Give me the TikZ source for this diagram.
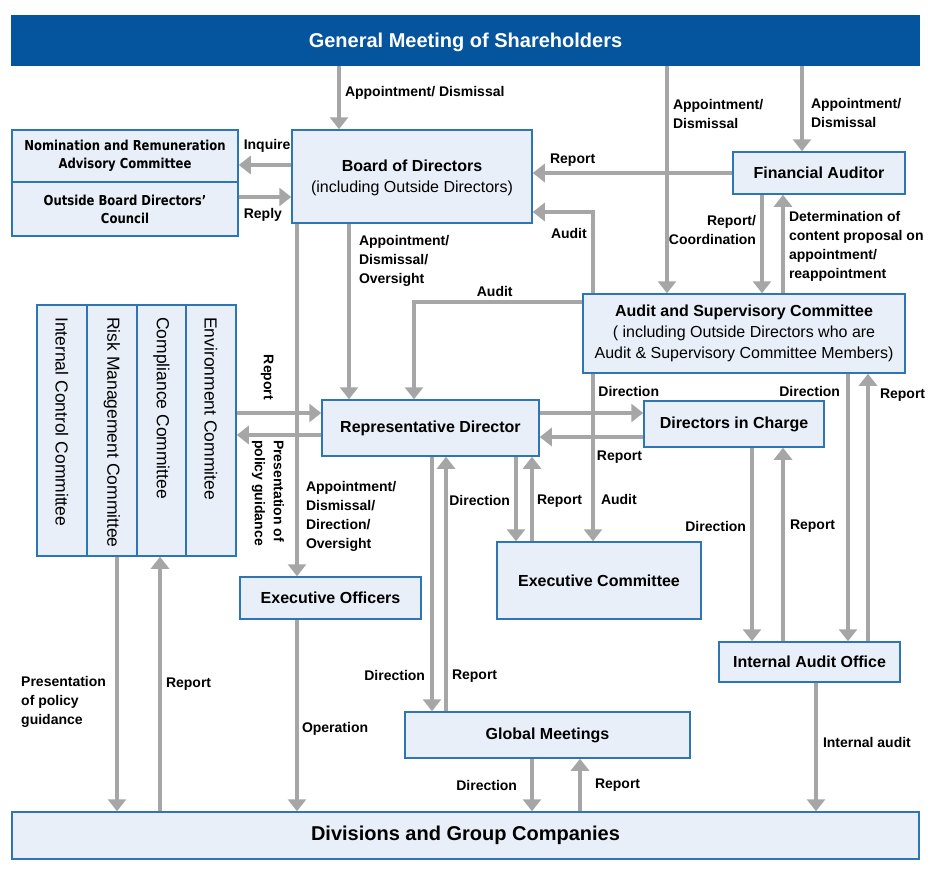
\documentclass[tikz,border=0pt]{standalone}
\usepackage{fontspec}
\setmainfont{Liberation Sans}
\newfontfamily\nomfamily{DejaVu Sans}[FakeStretch=0.85]
\usetikzlibrary{arrows.meta}
\definecolor{gmblue}{RGB}{5,84,158}
\definecolor{boxline}{RGB}{46,117,182}
\definecolor{boxfill}{RGB}{233,239,248}
\definecolor{flowgray}{RGB}{166,166,166}
\newcommand{\lblfont}{\fontsize{14}{19}\selectfont\bfseries}
\newcommand{\boxfont}{\fontsize{16}{21}\selectfont\bfseries}
\newcommand{\gmfont}{\fontsize{20}{24}\selectfont\bfseries}
\newcommand{\nomfont}{\nomfamily\fontsize{13.7}{18}\selectfont\bfseries}
\newcommand{\colfont}{\fontsize{17.5}{20}\selectfont}
\tikzset{
    box/.style={draw=boxline, fill=boxfill, line width=1.5pt, inner sep=0pt, align=center, font=\boxfont},
    flow/.style={draw=flowgray, line width=4pt, -{Triangle[width=18pt, length=12pt]}},
    lbl/.style={font=\lblfont, inner sep=0pt, text=black},
    coltext/.style={anchor=west, rotate=-90, inner sep=0pt, font=\colfont}
}
\begin{document}
\begin{tikzpicture}[x=1pt, y=-1pt]
    \useasboundingbox (0,0) rectangle (930,886);

    \node[box, fill=gmblue, draw=gmblue, text=white, font=\gmfont, text depth=0pt, minimum width=907pt, minimum height=49pt] (gm) at (465.5,40.5) {General Meeting of Shareholders};
    \node[box, font=\nomfont, minimum width=226pt, minimum height=52pt] (nom) at (125,156) {Nomination and Remuneration\\Advisory Committee};
    \node[box, font=\nomfont, minimum width=226pt, minimum height=54pt] (obdc) at (125,209) {Outside Board Directors’\\Council};
    \node[box, minimum width=240pt, minimum height=93pt] (board) at (412,176.5) {\rule{0pt}{15pt}Board of Directors\\{\mdseries (including Outside Directors)}};
    \node[box, minimum width=172pt, minimum height=42pt] (fa) at (819,173) {Financial Auditor};
    \node[box, minimum width=322pt, minimum height=79pt] (asc) at (744,333.5) {Audit and Supervisory Committee\\{\mdseries ( including Outside Directors who are}\\{\mdseries Audit \& Supervisory Committee Members)}};
    \node[box, minimum width=199pt, minimum height=251pt] (cmt) at (136.5,430.5) {};
    \node[box, minimum width=217pt, minimum height=56pt] (rep) at (430.5,428) {Representative Director};
    \node[box, minimum width=180pt, minimum height=46pt] (dic) at (734,424) {Directors in Charge};
    \node[box, minimum width=181pt, minimum height=42pt] (eo) at (330.5,598) {Executive Officers};
    \node[box, minimum width=204pt, minimum height=77pt] (ec) at (599,580.5) {Executive Committee};
    \node[box, minimum width=181pt, minimum height=40pt] (iao) at (809.5,662) {Internal Audit Office};
    \node[box, minimum width=285pt, minimum height=46pt] (glm) at (547.5,735) {Global Meetings};
    \node[box, font=\gmfont, minimum width=907pt, minimum height=47pt] (div) at (465.5,835.5) {Divisions and Group Companies};

    % committee columns
    \foreach \x in {87,137,186}
        \draw[boxline, line width=1.5pt] (cmt.north -| \x,0) -- (cmt.south -| \x,0);
    \node[coltext] (icc) at (62,317) {Internal Control Committee};
    \node[coltext] (rmc) at (112,317) {Risk Management Committee};
    \node[coltext] (cpc) at (161.5,317) {Compliance Committee};
    \node[coltext] (enc) at (211,317) {Environment Commitee};

    \draw[flow] (gm.south -| 339,0) -- node[lbl, pos=0.43, anchor=west, xshift=4pt] (lGmBoard) {Appointment/ Dismissal} (board.north -| 339,0);
    \draw[flow] (gm.south -| 667,0) -- node[lbl, align=left, pos=0.21, anchor=west, xshift=4pt] (lGmAsc) {Appointment/\\Dismissal} (asc.north -| 667,0);
    \draw[flow] (gm.south -| 802,0) -- node[lbl, align=left, pos=0.55, anchor=west, xshift=7pt] (lGmFa) {Appointment/\\Dismissal} (fa.north -| 802,0);

    \draw[flow] (board.west |- 0,165) -- node[lbl, pos=0.46, yshift=19.5pt] (lInquire) {Inquire} (nom.east |- 0,165);
    \draw[flow] (obdc.east |- 0,197) -- node[lbl, pos=0.46, yshift=-18pt] (lReply) {Reply} (board.west |- 0,197);

    \draw[flow] (fa.west) -- node[lbl, pos=0.8, yshift=12.5pt] (lFaBoard) {Report} (board.east |- fa.west);
    \draw[flow] (fa.south -| 762,0) -- node[lbl, align=right, pos=0.36, anchor=east, xshift=-4pt] (lFaAsc) {Report/\\Coordination} (asc.north -| 762,0);
    \draw[flow] (asc.north -| 783,0) -- node[lbl, align=left, pos=0.48, anchor=west, xshift=4pt] (lAscFa) {Determination of\\content proposal on\\appointment/\\reappointment} (fa.south -| 783,0);

    \draw[flow] (asc.north -| 593,0) |- node[lbl, pos=0.7, yshift=-21pt] (lAscBoard) {Audit} (board.east |- 0,212);
    \draw[flow] (asc.west |- 0,302) -| node[lbl, pos=0.26, yshift=11pt] (lAscRep) {Audit} (rep.north -| 414,0);
    \draw[flow] (asc.south -| 593,0) -- node[lbl, pos=0.75, anchor=west, xshift=6pt] (lAscEc) {Audit} (ec.north -| 593,0);
    \draw[flow] (asc.south -| 848,0) -- node[lbl, pos=0.067, anchor=east, xshift=-6pt] (lAscIao) {Direction} (iao.north -| 848,0);
    \draw[flow] (iao.north -| 868,0) -- node[lbl, pos=0.92, anchor=west, xshift=10pt] (lIaoAsc) {Report} (asc.south -| 868,0);

    \draw[flow] (board.south -| 349,0) -- node[lbl, align=left, pos=0.21, anchor=west, xshift=8pt] (lBoardRep) {Appointment/\\Dismissal/\\Oversight} (rep.north -| 349,0);
    \draw[flow] (board.south -| 297,0) -- node[lbl, align=left, pos=0.83, anchor=west, xshift=7pt] (lBoardEo) {Appointment/\\Dismissal/\\Direction/\\Oversight} (eo.north -| 297,0);

    \draw[flow] (cmt.east |- 0,413) -- node[lbl, pos=0.36, yshift=35.5pt, rotate=-90] (lCmtRep) {Report} (rep.west |- 0,413);
    \draw[flow] (rep.west |- 0,435) -- node[lbl, align=left, pos=0.63, yshift=-58pt, rotate=-90] (lRepCmt) {Presentation of\\policy guidance} (cmt.east |- 0,435);

    \draw[flow] (rep.east |- 0,413) -- node[lbl, pos=0.86, yshift=22pt] (lRepDic) {Direction} (dic.west |- 0,413);
    \draw[flow] (dic.west |- 0,437) -- node[lbl, pos=0.23, yshift=-20.5pt] (lDicRep) {Report} (rep.east |- 0,437);
    \draw[flow] (rep.south -| 516,0) -- node[lbl, pos=0.52, anchor=east, xshift=-4pt] (lRepEc) {Direction} (ec.north -| 516,0);
    \draw[flow] (ec.north -| 532,0) -- node[lbl, pos=0.48, anchor=west, xshift=3pt] (lEcRep) {Report} (rep.south -| 532,0);
    \draw[flow] (rep.south -| 432,0) -- node[lbl, pos=0.86, anchor=east, xshift=-5pt] (lRepGlm) {Direction} (glm.north -| 432,0);
    \draw[flow] (glm.north -| 446,0) -- node[lbl, pos=0.137, anchor=west, xshift=4pt] (lGlmRep) {Report} (rep.south -| 446,0);

    \draw[flow] (dic.south -| 752,0) -- node[lbl, pos=0.405, anchor=east, xshift=-4pt] (lDicIao) {Direction} (iao.north -| 752,0);
    \draw[flow] (iao.north -| 783,0) -- node[lbl, pos=0.595, anchor=west, xshift=5pt] (lIaoDic) {Report} (dic.south -| 783,0);

    \draw[flow] (eo.south -| 297,0) -- node[lbl, pos=0.57, anchor=west, xshift=3pt] (lEoDiv) {Operation} (div.north -| 297,0);
    \draw[flow] (cmt.south -| 117,0) -- node[lbl, align=left, pos=0.57, anchor=east, xshift=-9pt] (lCmtDiv) {Presentation\\of policy\\guidance} (div.north -| 117,0);
    \draw[flow] (div.north -| 160,0) -- node[lbl, pos=0.5, anchor=west, xshift=4pt] (lDivCmt) {Report} (cmt.south -| 160,0);
    \draw[flow] (glm.south -| 532,0) -- node[lbl, pos=0.5, anchor=east, xshift=-13pt] (lGlmDiv) {Direction} (div.north -| 532,0);
    \draw[flow] (div.north -| 580,0) -- node[lbl, pos=0.5, anchor=west, xshift=13pt] (lDivGlm) {Report} (glm.south -| 580,0);
    \draw[flow] (iao.south -| 816,0) -- node[lbl, pos=0.465, anchor=west, xshift=5pt] (lIaoDiv) {Internal audit} (div.north -| 816,0);
\end{tikzpicture}
\end{document}
